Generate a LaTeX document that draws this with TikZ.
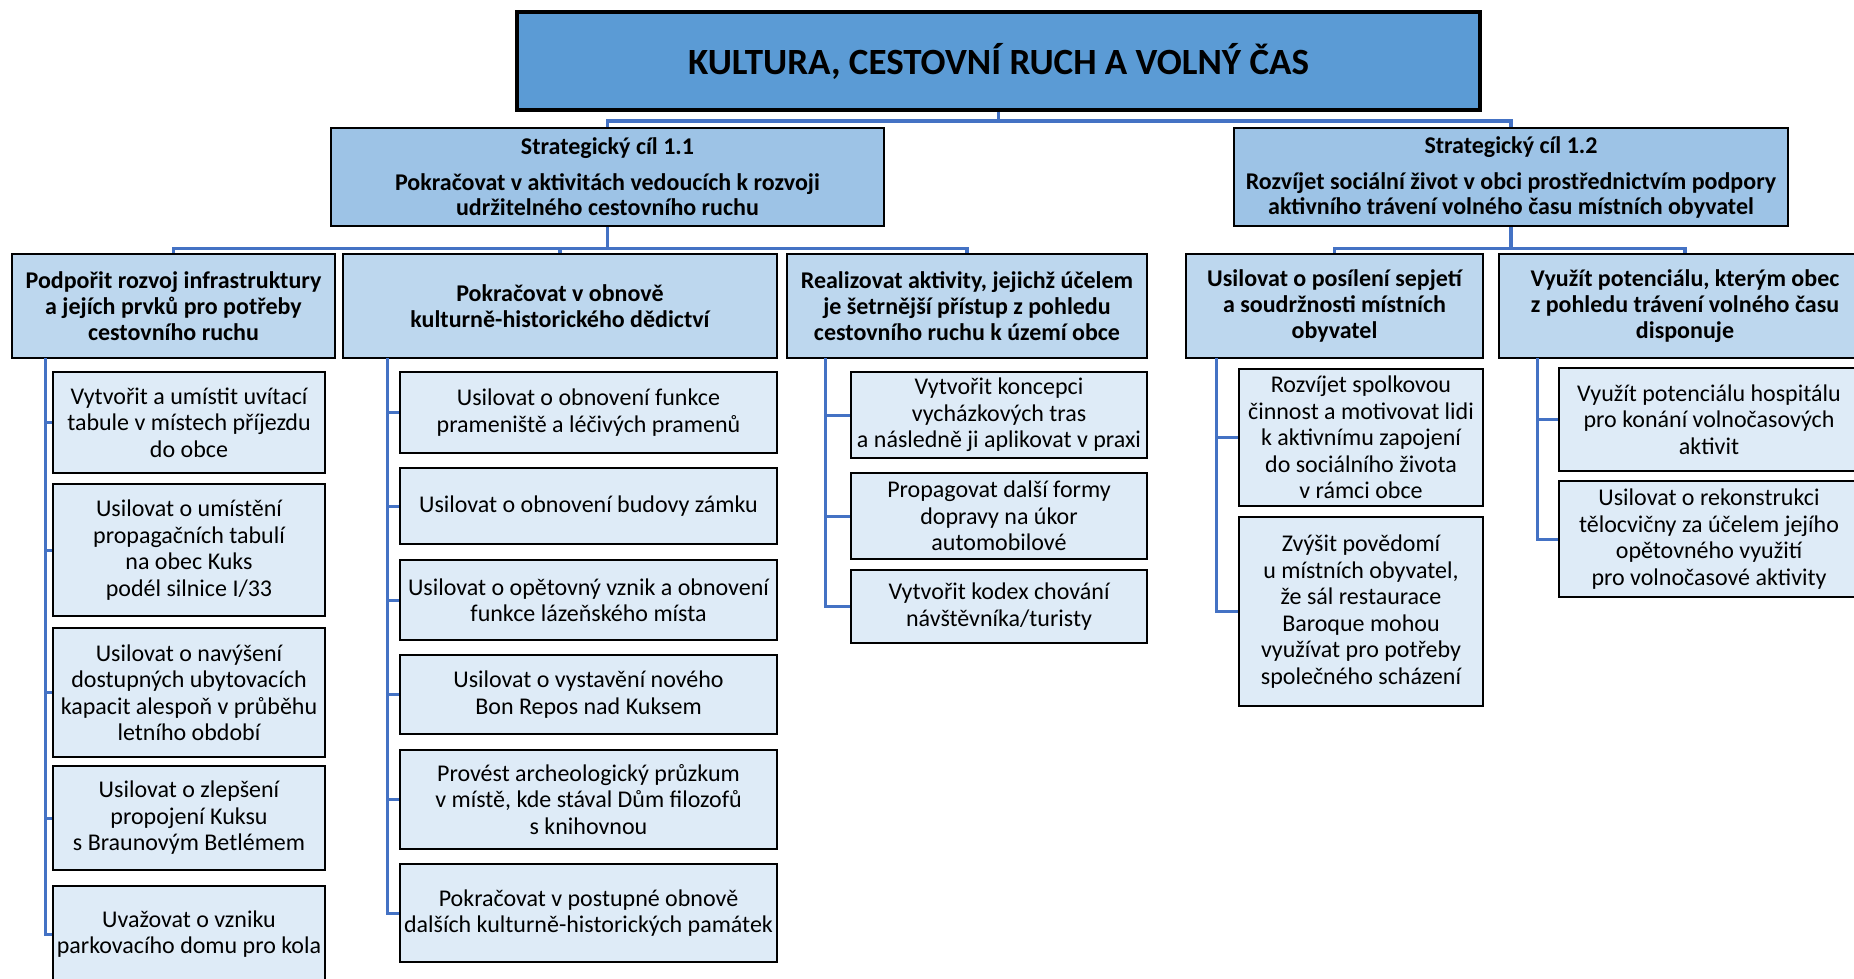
\documentclass[tikz,border=0pt]{standalone}
\usepackage{fontspec}
\setmainfont{Carlito}

\definecolor{linkblue}{HTML}{4472C4}
\definecolor{topfill}{HTML}{5B9BD5}
\definecolor{goalfill}{HTML}{9DC3E6}
\definecolor{areafill}{HTML}{BDD7EE}
\definecolor{taskfill}{HTML}{DEEBF7}

\begin{document}
\begin{tikzpicture}[x=1pt,y=-1pt]

      \useasboundingbox (0,0) rectangle (1854,978);
      \clip (0,0) rectangle (1854,978);

      \begin{scope}[every node/.style={draw,line width=3.5pt,fill=topfill,inner sep=0pt,font=\fontsize{37}{42}\selectfont\bfseries}]
        \node[minimum width=963pt,minimum height=98pt] (t) at (998.5,61) {KULTURA, CESTOVNÍ RUCH A VOLNÝ ČAS};
      \end{scope}

      \begin{scope}[every node/.style={draw,line width=2.5pt,fill=goalfill,align=center,inner sep=0pt,minimum height=98pt,font=\fontsize{24}{25}\selectfont\bfseries}]
        \node[minimum width=553pt] (s1) at (607.5,177) {Strategický cíl 1.1\\[11pt]Pokračovat v aktivitách vedoucích k rozvoji\\udržitelného cestovního ruchu};
        \node[minimum width=554pt] (s2) at (1511,177) {Strategický cíl 1.2\\[11pt]Rozvíjet sociální život v obci prostřednictvím podpory\\aktivního trávení volného času místních obyvatel};
      \end{scope}

      \begin{scope}[every node/.style={draw,line width=2.5pt,fill=areafill,align=center,inner sep=0pt,minimum height=104pt,font=\fontsize{24}{26}\selectfont\bfseries}]
        \node[minimum width=323pt] (a) at (173.5,306) {Podpořit rozvoj infrastruktury\\a jejích prvků pro potřeby\\cestovního ruchu};
        \node[minimum width=434pt] (b) at (560,306) {Pokračovat v obnově\\kulturně-historického dědictví};
        \node[minimum width=360pt] (c) at (967,306) {Realizovat aktivity, jejichž účelem\\je šetrnější přístup z pohledu\\cestovního ruchu k území obce};
        \node[minimum width=297pt] (d) at (1334.5,306) {Usilovat o posílení sepjetí\\a soudržnosti místních\\obyvatel};
        \node[minimum width=372pt] (e) at (1685,306) {Využít potenciálu, kterým obec\\z pohledu trávení volného času\\disponuje};
      \end{scope}

      \begin{scope}[every node/.style={draw,line width=2.5pt,fill=taskfill,align=center,inner sep=0pt,font=\fontsize{24}{26.5}\selectfont}]
        % cestovni ruch - infrastruktura
        \node[minimum width=272pt,minimum height=101pt] (a1) at (189,422.5) {Vytvořit a umístit uvítací\\tabule v místech příjezdu\\do obce};
        \node[minimum width=272pt,minimum height=132pt] (a2) at (189,550) {Usilovat o umístění\\propagačních tabulí\\na obec Kuks\\podél silnice I/33};
        \node[minimum width=272pt,minimum height=129pt] (a3) at (189,692.5) {Usilovat o navýšení\\dostupných ubytovacích\\kapacit alespoň v průběhu\\letního období};
        \node[minimum width=272pt,minimum height=104pt] (a4) at (189,818) {Usilovat o zlepšení\\propojení Kuksu\\s Braunovým Betlémem};
        \node[minimum width=272pt,minimum height=96pt] (a5) at (189,934) {Uvažovat o vzniku\\parkovacího domu pro kola};

        % dedictvi
        \node[minimum width=377pt,minimum height=81pt] (b1) at (588.5,412.5) {Usilovat o obnovení funkce\\prameniště a léčivých pramenů};
        \node[minimum width=377pt,minimum height=76pt] (b2) at (588.5,506) {Usilovat o obnovení budovy zámku};
        \node[minimum width=377pt,minimum height=80pt] (b3) at (588.5,600) {Usilovat o opětovný vznik a obnovení\\funkce lázeňského místa};
        \node[minimum width=377pt,minimum height=79pt] (b4) at (588.5,694.5) {Usilovat o vystavění nového\\Bon Repos nad Kuksem};
        \node[minimum width=377pt,minimum height=99pt] (b5) at (588.5,799.5) {Provést archeologický průzkum\\v místě, kde stával Dům filozofů\\s knihovnou};
        \node[minimum width=377pt,minimum height=98pt] (b6) at (588.5,913) {Pokračovat v postupné obnově\\dalších kulturně-historických památek};

        % setrnejsi pristup
        \node[minimum width=296pt,minimum height=86pt] (c1) at (999,415) {Vytvořit koncepci\\vycházkových tras\\a následně ji aplikovat v praxi};
        \node[minimum width=296pt,minimum height=86pt] (c2) at (999,516) {Propagovat další formy\\dopravy na úkor\\automobilové};
        \node[minimum width=296pt,minimum height=73pt] (c3) at (999,606.5) {Vytvořit kodex chování\\návštěvníka/turisty};

        % socialni zivot
        \node[minimum width=244pt,minimum height=137pt] (d1) at (1361,437.5) {Rozvíjet spolkovou\\činnost a motivovat lidi\\k aktivnímu zapojení\\do sociálního života\\v rámci obce};
        \node[minimum width=244pt,minimum height=189pt] (d2) at (1361,611.5) {Zvýšit povědomí\\u místních obyvatel,\\že sál restaurace\\Baroque mohou\\využívat pro potřeby\\společného scházení};

        % volny cas
        \node[minimum width=300pt,minimum height=103pt] (e1) at (1709,419.5) {Využít potenciálu hospitálu\\pro konání volnočasových\\aktivit};
        \node[minimum width=300pt,minimum height=116pt] (e2) at (1709,539) {Usilovat o rekonstrukci\\tělocvičny za účelem jejího\\opětovného využití\\pro volnočasové aktivity};
      \end{scope}

      \coordinate (ta) at (45,358);
      \coordinate (tb) at (387,358);
      \coordinate (tc) at (825,358);
      \coordinate (td) at (1216,358);
      \coordinate (te) at (1537,358);

      \begin{scope}[every path/.style={draw=linkblue,line width=3.5pt}]
        \path (t.south) -- ++(0,9) -| (s1.north);
        \path (t.south) -- ++(0,9) -| (s2.north);
        \path (s1.south) -- ++(0,21) -| (a.north);
        \path (s1.south) -- ++(0,21) -| (b.north);
        \path (s1.south) -- ++(0,21) -| (c.north);
        \path (s2.south) -- ++(0,21) -| (d.north);
        \path (s2.south) -- ++(0,21) -| (e.north);
      \end{scope}

      \begin{scope}[every path/.style={draw=linkblue,line width=3pt}]
        \foreach \n in {a1,a2,a3,a4,a5} \path (ta) |- (\n.west);
        \foreach \n in {b1,b2,b3,b4,b5,b6} \path (tb) |- (\n.west);
        \foreach \n in {c1,c2,c3} \path (tc) |- (\n.west);
        \foreach \n in {d1,d2} \path (td) |- (\n.west);
        \foreach \n in {e1,e2} \path (te) |- (\n.west);
      \end{scope}

    \end{tikzpicture}
\end{document}
